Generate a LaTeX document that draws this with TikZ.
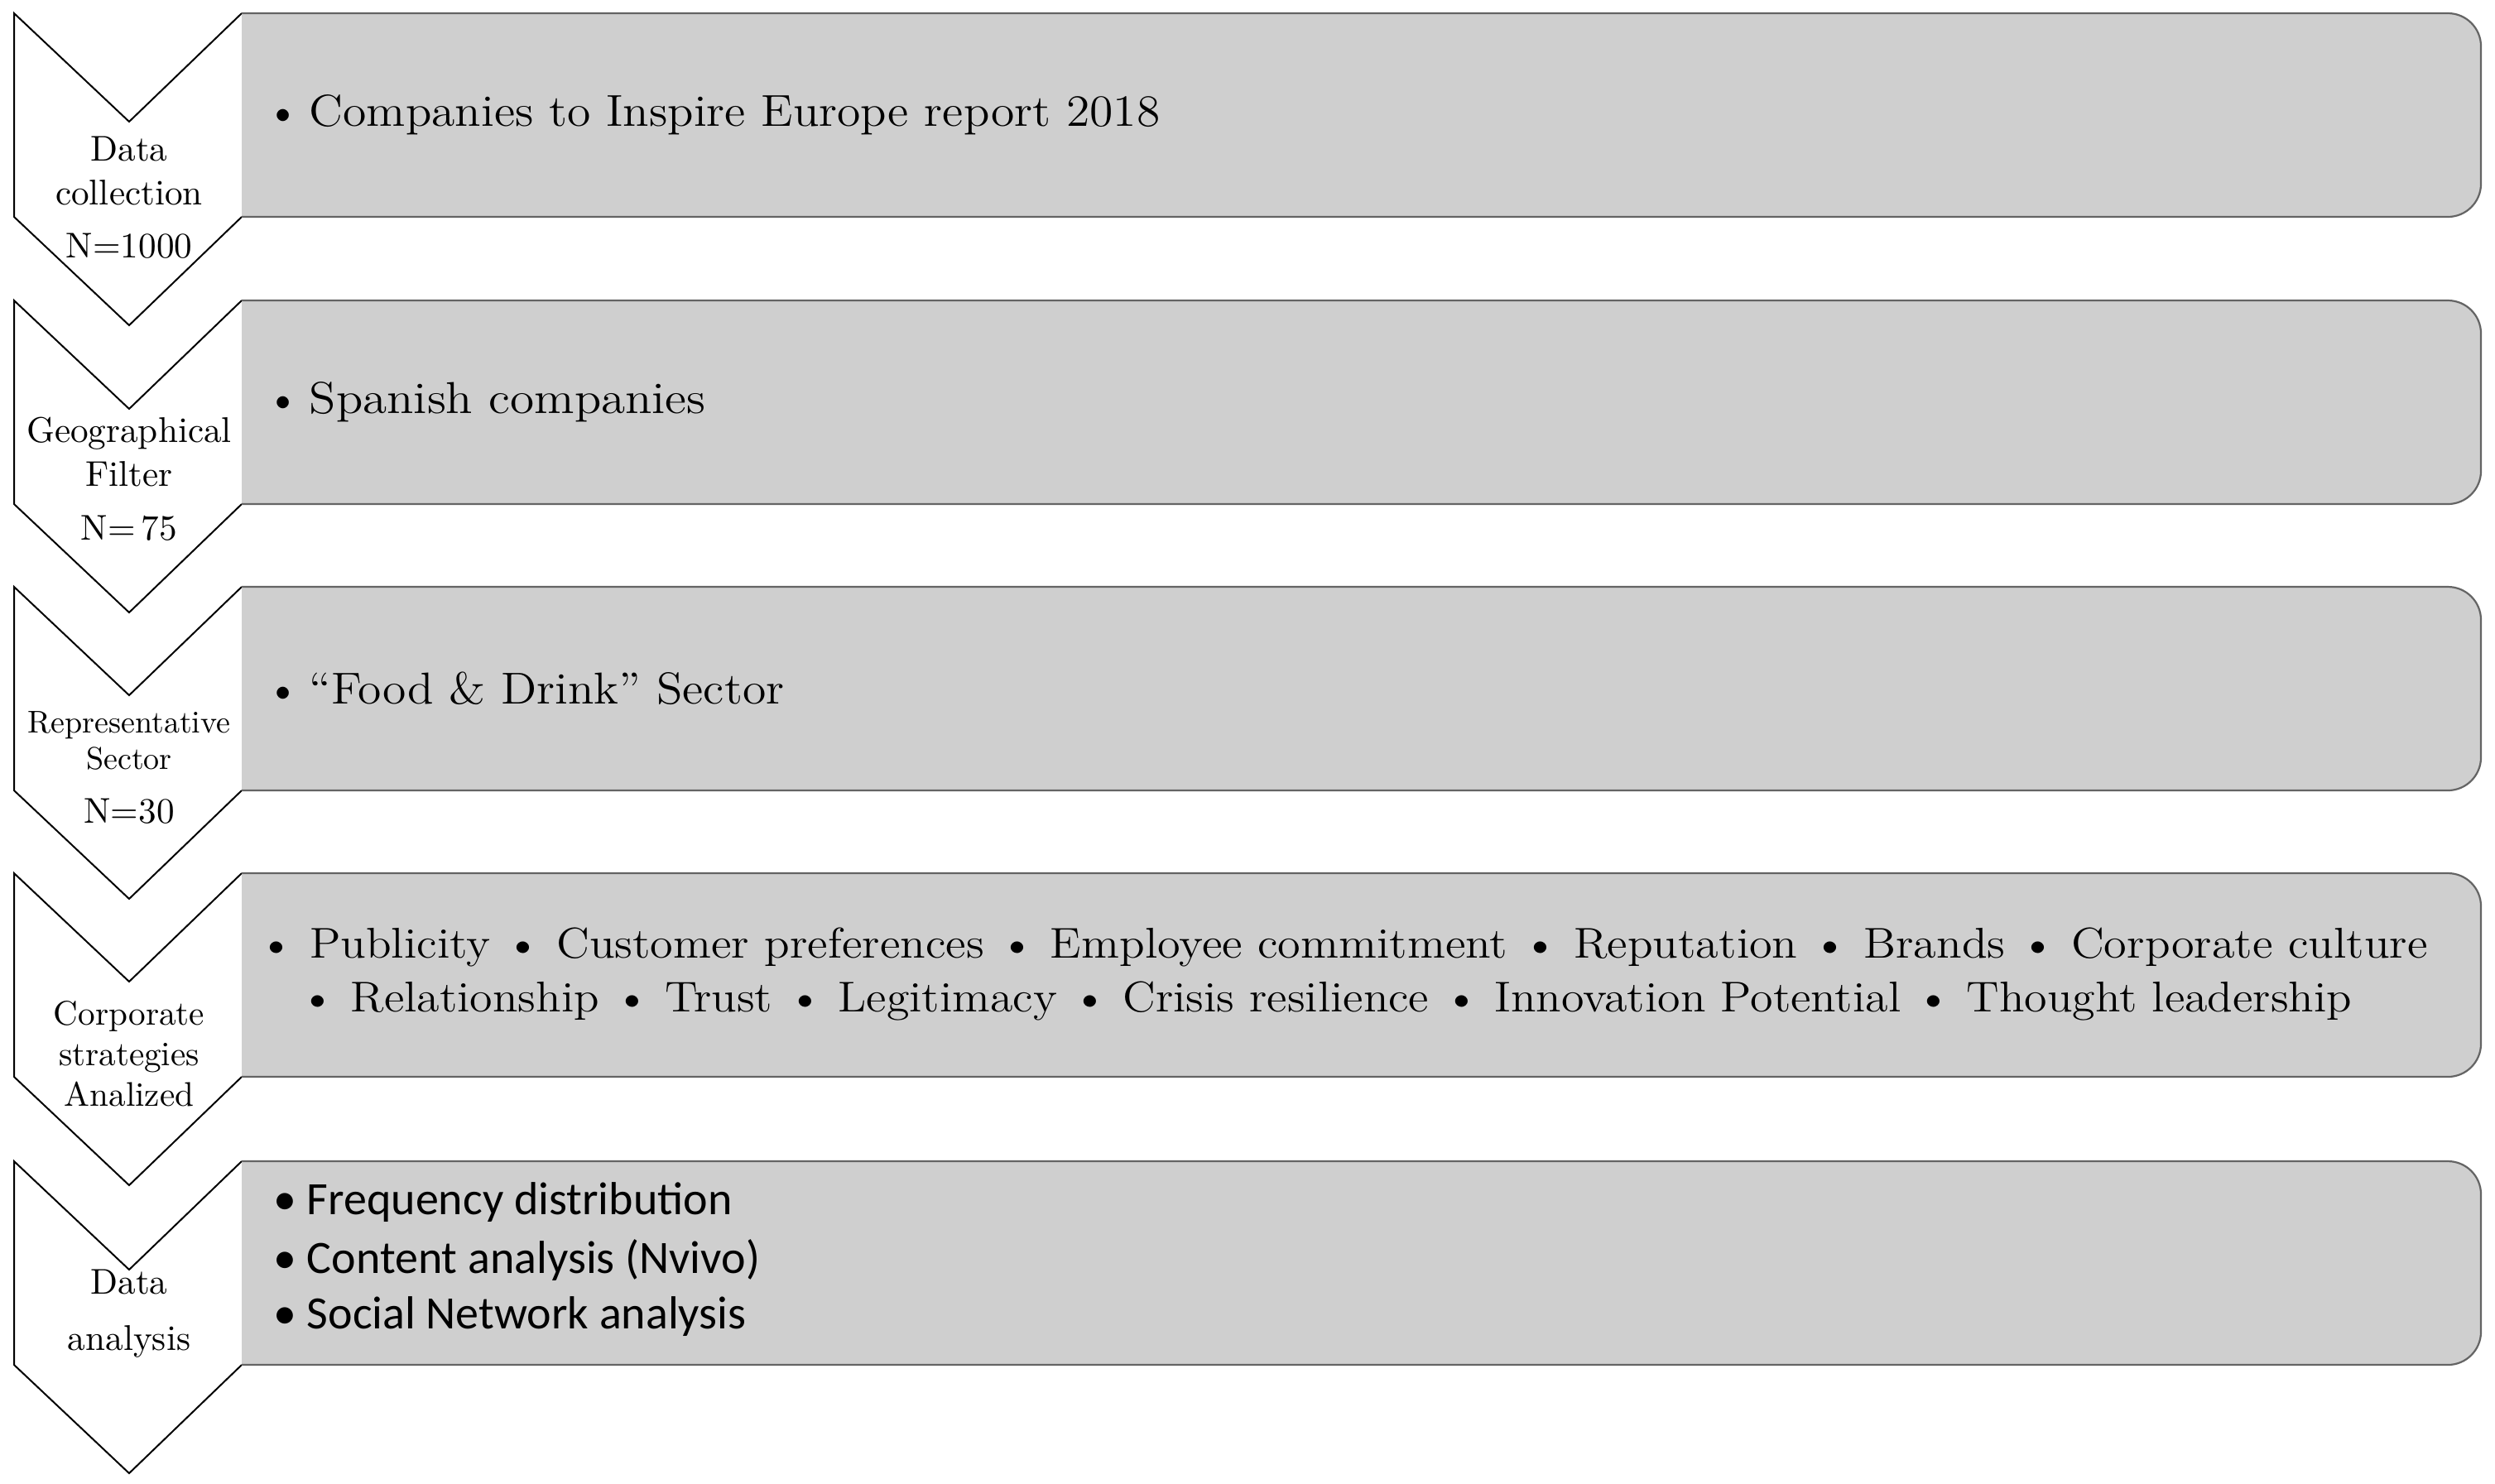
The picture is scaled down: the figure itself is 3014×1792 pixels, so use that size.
\documentclass[tikz,border=0pt]{standalone}
\usepackage{fontspec}
\newfontfamily\carlito{Carlito}
\usepackage{graphicx}
\definecolor{boxgray}{RGB}{207,207,207}
\definecolor{boxline}{RGB}{100,100,100}
\newcommand{\bigbul}{\makebox[13pt][l]{\textbullet}}
\begin{document}
\begin{tikzpicture}[x=0.25pt,y=-0.25pt,
  chev/.style={line width=0.5pt,draw=black},
  boxedge/.style={line width=0.55pt,draw=boxline,rounded corners=10pt},
  lab/.style={align=center,inner sep=0pt,font=\fontsize{10.8}{13.25}\selectfont},
  nlab/.style={inner sep=0pt,font=\fontsize{10.8}{13}\selectfont},
  item/.style={anchor=west,inner sep=0pt,font=\fontsize{13.5}{16}\selectfont},
  citem/.style={anchor=west,inner sep=0pt,font=\carlito\fontsize{14}{16}\selectfont}]
\useasboundingbox (0,0) rectangle (3014,1792);
\fill[white] (0,0) rectangle (3014,1792);
\foreach \t/\nm in {16/a,363/b,709/c,1055/d,1403/e}{
  \fill[white] (292,\t) -- (156,\t+131) -- (17,\t) -- (17,\t+246) -- (156,\t+377) -- (292,\t+246) -- cycle;
  \draw[chev] (292,\t) -- (156,\t+131) -- (17,\t) -- (17,\t+246) -- (156,\t+377) -- (292,\t+246);
  \fill[boxgray,rounded corners=10pt] (292,\t) rectangle (2997,\t+246);
  \fill[boxgray] (292,\t) rectangle (1500,\t+246);
  \draw[boxedge] (292,\t) -- (2997,\t) -- (2997,\t+246) -- (292,\t+246);
}
% left labels
\node[lab] (l1) at (156,206) {Data\\collection};
\node[nlab] (n1) at (156,297) {N=1000};
\node[lab] (l2) at (156,546) {Geographical\\Filter};
\node[nlab] (n2) at (156,638) {N=\,75};
\node[lab,font=\fontsize{9.5}{11}\selectfont] (l3) at (156,895) {Representative\\Sector};
\node[nlab] (n3) at (156,980) {N=30};
\node[lab,font=\fontsize{10.3}{12.25}\selectfont] (l4) at (156,1273) {Corporate\\strategies\\Analized};
\node[lab,font=\fontsize{10.8}{17}\selectfont] (l5) at (156,1587) {Data\\analysis};
% right texts
\node[item] (t1) at (321,139) {\bigbul\scalebox{1.07}[1]{Companies to Inspire Europe report 2018}};
\node[item] (t2) at (321,486) {\bigbul\scalebox{1.1}[1]{Spanish companies}};
\node[item] (t3) at (321,832) {\bigbul\scalebox{1.07}[1]{“Food \& Drink” Sector}};
\node[item,font=\fontsize{13}{16}\selectfont] (t4a) at (312,1144) {\resizebox{655pt}{\height}{\textbullet\ Publicity \textbullet\ Customer preferences \textbullet\ Employee commitment \textbullet\ Reputation \textbullet\ Brands \textbullet\ Corporate culture}};
\node[item,font=\fontsize{13}{16}\selectfont] (t4b) at (362,1209) {\resizebox{619.5pt}{\height}{\textbullet\ Relationship \textbullet\ Trust \textbullet\ Legitimacy \textbullet\ Crisis resilience \textbullet\ Innovation Potential \textbullet\ Thought leadership}};
\node[citem] (t5a) at (330,1453) {\makebox[10pt][l]{\textbullet}Frequency distribution};
\node[citem] (t5b) at (330,1522) {\makebox[10pt][l]{\textbullet}Content analysis (Nvivo)};
\node[citem] (t5c) at (330,1591) {\makebox[10pt][l]{\textbullet}Social Network analysis};
\end{tikzpicture}
\end{document}
